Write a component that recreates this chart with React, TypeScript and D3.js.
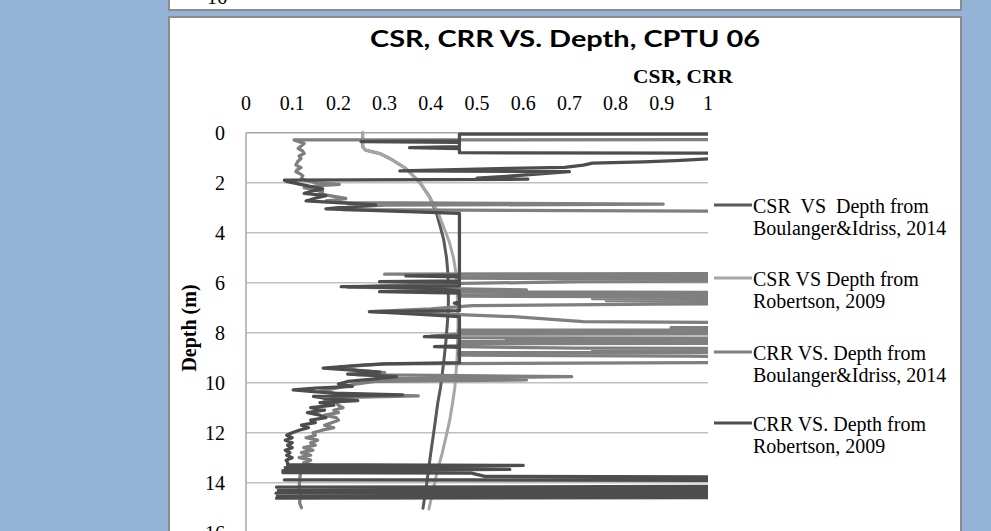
import React from 'react';
import * as d3 from 'd3';

// Depth (m) / ratio pairs for each profile. Values above 1 run past the axis and are clipped.
const csrBoulanger: [number, number][] = [
  [0.0, 0.2525], [0.56, 0.2525], [0.69, 0.258], [0.83, 0.289], [1.09, 0.317], [1.43, 0.346],
  [1.96, 0.375], [2.56, 0.397], [3.2, 0.412], [3.8, 0.421], [4.29, 0.428], [5.0, 0.434],
  [5.62, 0.437], [6.3, 0.438], [6.96, 0.438], [7.6, 0.436], [8.29, 0.433], [9.0, 0.429],
  [9.62, 0.425], [10.2, 0.421], [10.82, 0.415], [11.5, 0.41], [12.16, 0.405], [12.8, 0.4],
  [13.49, 0.395], [14.2, 0.39], [15.02, 0.383],
];

const csrRobertson: [number, number][] = [
  [0.0, 0.2525], [0.56, 0.2525], [0.69, 0.258], [0.83, 0.289], [1.09, 0.317], [1.43, 0.346],
  [1.96, 0.375], [2.56, 0.397], [3.16, 0.415], [3.83, 0.429], [4.36, 0.44], [5.0, 0.449],
  [5.62, 0.4545], [6.3, 0.457], [6.96, 0.458], [7.6, 0.459], [8.29, 0.458], [9.0, 0.457],
  [9.62, 0.4545], [10.2, 0.452], [10.82, 0.447], [11.5, 0.441], [12.16, 0.433], [12.8, 0.425],
  [13.49, 0.415], [14.2, 0.406], [14.96, 0.397], [15.05, 0.396],
];

const crrBoulanger: [number, number][] = [
  [0.05, 2.0], [0.26, 2.0], [0.29, 0.104], [0.43, 0.126], [0.55, 0.118], [0.63, 0.113],
  [0.72, 0.122], [0.83, 0.126], [0.93, 0.115], [1.03, 0.119], [1.15, 0.112], [1.29, 0.108],
  [1.4, 0.119], [1.5, 0.11], [1.56, 0.108], [1.65, 0.118], [1.72, 0.123], [1.82, 0.12],
  [1.89, 0.126], [2.0, 0.15], [2.07, 0.202], [2.12, 0.16], [2.2, 0.126], [2.3, 0.15],
  [2.36, 0.166], [2.45, 0.16], [2.55, 0.19], [2.63, 0.216], [2.7, 0.19], [2.73, 0.173],
  [2.8, 0.22], [2.86, 0.903], [2.9, 0.3], [2.98, 0.22], [3.08, 0.21], [3.2, 2.0],
  [5.6, 2.0], [5.66, 0.3], [5.7, 2.0], [5.74, 0.46], [5.78, 2.0], [5.82, 0.46], [5.86, 2.0],
  [5.96, 0.72], [6.05, 0.4], [6.18, 0.22], [6.29, 0.607], [6.36, 0.42], [6.42, 2.0],
  [6.46, 0.46], [6.5, 2.0], [6.54, 0.46], [6.58, 2.0], [6.64, 0.75], [6.68, 2.0],
  [6.72, 0.78], [6.76, 2.0], [6.86, 0.885], [6.92, 0.49], [7.05, 0.4], [7.16, 0.27],
  [7.25, 0.42], [7.36, 0.579], [7.56, 0.73], [7.68, 2.0], [7.8, 0.92], [7.86, 2.0],
  [7.9, 0.46], [7.94, 2.0], [7.98, 0.46], [8.02, 2.0], [8.06, 0.46], [8.14, 0.4],
  [8.2, 0.46], [8.24, 2.0], [8.28, 0.564], [8.32, 2.0], [8.36, 0.46], [8.4, 2.0],
  [8.44, 0.46], [8.56, 0.46], [8.62, 0.716], [8.66, 2.0], [8.7, 0.75], [8.76, 2.0],
  [8.8, 0.46], [8.9, 0.46], [8.94, 0.96], [9.0, 2.0], [9.12, 2.0], [9.25, 0.3], [9.38, 0.2],
  [9.5, 0.24], [9.6, 0.3], [9.68, 0.24], [9.76, 0.705], [9.84, 0.3], [9.89, 0.607],
  [9.95, 0.28], [10.05, 0.24], [10.2, 0.2], [10.35, 0.16], [10.45, 0.2], [10.53, 0.373],
  [10.6, 0.2], [10.7, 0.17], [10.8, 0.195], [10.9, 0.2], [11.0, 0.21], [11.1, 0.19],
  [11.2, 0.2], [11.3, 0.17], [11.4, 0.195], [11.5, 0.2], [11.6, 0.185], [11.7, 0.17],
  [11.8, 0.19], [11.9, 0.165], [12.0, 0.145], [12.1, 0.15], [12.2, 0.13], [12.3, 0.155],
  [12.4, 0.14], [12.5, 0.15], [12.6, 0.125], [12.7, 0.145], [12.8, 0.12], [12.9, 0.14],
  [13.0, 0.115], [13.1, 0.14], [13.2, 0.125], [13.3, 0.145], [13.35, 0.12], [13.6, 0.118],
  [13.9, 0.116], [14.2, 0.115], [14.5, 0.118], [14.8, 0.116], [15.0, 0.12],
];

const crrRobertson: [number, number][] = [
  [0.0, 2.0], [0.04, 2.0], [0.06, 0.462], [0.33, 0.462], [0.36, 0.249], [0.39, 0.462],
  [0.56, 0.462], [0.6, 0.354], [0.64, 0.462], [0.8, 0.462], [0.84, 2.0], [1.02, 2.0],
  [1.05, 1.0], [1.12, 0.93], [1.17, 0.86], [1.22, 0.75], [1.3, 0.73], [1.39, 0.69],
  [1.43, 0.57], [1.53, 0.333], [1.56, 0.7], [1.7, 0.6], [1.82, 0.5], [1.86, 0.61],
  [1.9, 0.083], [1.96, 0.09], [2.09, 0.123], [2.25, 0.166], [2.35, 0.14], [2.43, 0.126],
  [2.52, 0.173], [2.62, 0.15], [2.73, 0.13], [2.89, 0.281], [3.0, 0.2], [3.05, 0.173],
  [3.23, 0.462], [5.7, 0.462], [5.73, 0.346], [5.77, 0.462], [5.93, 0.462], [5.96, 0.289],
  [5.99, 0.462], [6.13, 0.462], [6.16, 0.206], [6.22, 0.4], [6.33, 0.462], [6.36, 0.289],
  [6.42, 0.462], [6.78, 0.462], [6.82, 0.451], [6.86, 0.462], [7.12, 0.462], [7.16, 0.267],
  [7.22, 0.33], [7.36, 0.462], [8.13, 0.462], [8.16, 0.386], [8.19, 0.462], [8.53, 0.462],
  [8.56, 0.408], [8.59, 0.462], [9.2, 0.462], [9.25, 0.3], [9.3, 0.25], [9.42, 0.167],
  [9.5, 0.23], [9.58, 0.29], [9.66, 0.22], [9.76, 0.326], [9.85, 0.28], [9.95, 0.22],
  [10.05, 0.2], [10.15, 0.23], [10.22, 0.15], [10.29, 0.102], [10.35, 0.14], [10.42, 0.19],
  [10.49, 0.339], [10.55, 0.146], [10.65, 0.18], [10.72, 0.242], [10.8, 0.16], [10.9, 0.19],
  [11.0, 0.14], [11.1, 0.17], [11.2, 0.133], [11.3, 0.16], [11.4, 0.173], [11.5, 0.14],
  [11.6, 0.15], [11.7, 0.12], [11.8, 0.135], [11.9, 0.115], [12.0, 0.1], [12.1, 0.088],
  [12.2, 0.1], [12.3, 0.085], [12.4, 0.1], [12.5, 0.09], [12.6, 0.1], [12.7, 0.085],
  [12.8, 0.095], [12.9, 0.088], [13.0, 0.1], [13.1, 0.087], [13.2, 0.09], [13.28, 0.09],
  [13.31, 0.6], [13.36, 0.09], [13.4, 0.085], [13.47, 0.571], [13.52, 0.08], [13.6, 0.08],
  [13.62, 0.488], [13.75, 0.517], [13.8, 2.0], [13.86, 2.0], [13.89, 0.083], [13.93, 2.0],
  [14.12, 2.0], [14.18, 0.066], [14.24, 2.0], [14.3, 0.07], [14.36, 2.0], [14.42, 0.065],
  [14.48, 2.0], [14.54, 0.068], [14.58, 2.0], [14.62, 0.066],
];

const ratioTicks = [0, 0.1, 0.2, 0.3, 0.4, 0.5, 0.6, 0.7, 0.8, 0.9, 1];
const depthTicks = [0, 2, 4, 6, 8, 10, 12, 14, 16];

const seriesNames = [
  ['CSR  VS  Depth from', 'Boulanger&Idriss, 2014'],
  ['CSR VS Depth from', 'Robertson, 2009'],
  ['CRR VS. Depth from', 'Boulanger&Idriss, 2014'],
  ['CRR VS. Depth from', 'Robertson, 2009'],
];
const seriesColors = ['#595959', '#a6a6a6', '#7f7f7f', '#4d4d4d'];
const seriesWidths = [3, 3, 3.25, 3.25];
const seriesData = [csrBoulanger, csrRobertson, crrBoulanger, crrRobertson];

const SERIF = '"Liberation Serif", "Times New Roman", serif';

export default function App() {
  const W = 991;
  const H = 531;
  const x = d3.scaleLinear().domain([0, 1]).range([246, 708]);
  const y = d3.scaleLinear().domain([0, 16]).range([132.7, 532.7]);
  const line = d3
    .line<[number, number]>()
    .x((d) => x(d[1]))
    .y((d) => y(d[0]));

  const legendRows = [205, 278, 352, 423];

  return (
    <svg
      width={W}
      height={H}
      viewBox={`0 0 ${W} ${H}`}
      style={{ position: 'absolute', left: 0, top: 0, display: 'block' }}
    >
      <defs>
        <clipPath id="plot-clip">
          <rect x={0} y={128} width={x(1)} height={H} />
        </clipPath>
      </defs>
      <rect x={0} y={0} width={W} height={H} fill="#95b3d7" />

      {/* lower edge of the panel above */}
      <rect x={169} y={-20} width={792} height={30} fill="#ffffff" stroke="#8c8c8c" strokeWidth={2} />
      <text x={227} y={3.5} textAnchor="end" fontFamily={SERIF} fontSize={20} fill="#000">
        16
      </text>

      {/* chart panel */}
      <rect x={169} y={17} width={792} height={540} fill="#ffffff" stroke="#8c8c8c" strokeWidth={2} />

      <text
        x={370}
        y={46.5}
        fontFamily="Lato, 'Open Sans', sans-serif"
        fontWeight="bold"
        fontSize={23}
        textLength={390}
        lengthAdjust="spacingAndGlyphs"
        fill="#000"
      >
        CSR, CRR VS. Depth, CPTU 06
      </text>

      <text
        x={633}
        y={83}
        fontFamily={SERIF}
        fontWeight="bold"
        fontSize={19}
        textLength={100}
        lengthAdjust="spacingAndGlyphs"
        fill="#000"
      >
        CSR, CRR
      </text>

      {/* gridlines */}
      {depthTicks.map((t) => (
        <line
          key={`g${t}`}
          x1={x(0)}
          x2={x(1)}
          y1={y(t)}
          y2={y(t)}
          stroke={t === 0 ? '#a6a6a6' : '#bfbfbf'}
          strokeWidth={1.5}
        />
      ))}
      <line x1={x(0)} x2={x(0)} y1={y(0)} y2={H} stroke="#a6a6a6" strokeWidth={1.5} />

      {/* axis labels */}
      {ratioTicks.map((t) => (
        <text key={`x${t}`} x={x(t)} y={110} textAnchor="middle" fontFamily={SERIF} fontSize={20} fill="#000">
          {String(+t.toFixed(1))}
        </text>
      ))}
      {depthTicks.map((t) => (
        <text
          key={`y${t}`}
          x={225}
          y={y(t)}
          dy="0.35em"
          textAnchor="end"
          fontFamily={SERIF}
          fontSize={20}
          fill="#000"
        >
          {t}
        </text>
      ))}
      <text
        transform={`translate(196,328) rotate(-90)`}
        textAnchor="middle"
        fontFamily={SERIF}
        fontWeight="bold"
        fontSize={20}
        fill="#000"
      >
        Depth (m)
      </text>

      {/* profiles */}
      <g clipPath="url(#plot-clip)">
        {seriesData.map((s, i) => (
          <path
            key={`s${i}`}
            d={line(s) || ''}
            fill="none"
            stroke={seriesColors[i]}
            strokeWidth={seriesWidths[i]}
            strokeLinejoin="round"
            strokeLinecap="round"
          />
        ))}
      </g>

      {/* legend */}
      {seriesNames.map((names, i) => (
        <g key={`l${i}`}>
          <line
            x1={714}
            x2={752}
            y1={legendRows[i]}
            y2={legendRows[i]}
            stroke={seriesColors[i]}
            strokeWidth={3}
          />
          <text
            x={753}
            y={legendRows[i] + 8}
            fontFamily={SERIF}
            fontSize={20}
            fill="#000"
            style={{ whiteSpace: 'pre' }}
          >
            {names[0]}
          </text>
          <text x={753} y={legendRows[i] + 30} fontFamily={SERIF} fontSize={20} fill="#000">
            {names[1]}
          </text>
        </g>
      ))}
    </svg>
  );
}
